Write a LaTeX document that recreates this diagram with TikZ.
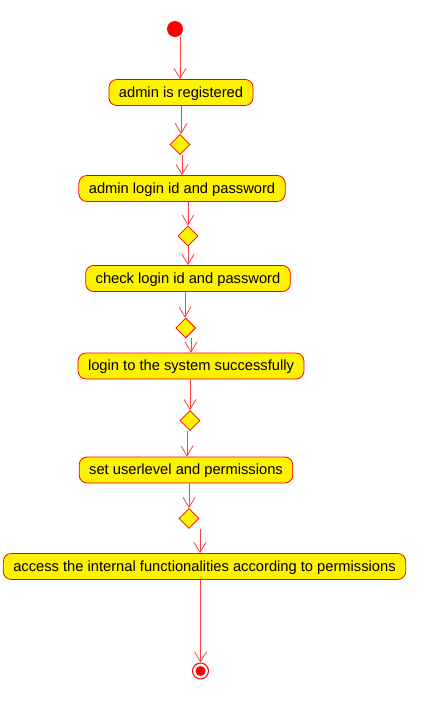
\documentclass[tikz,border=0pt]{standalone}
\usepackage{fontspec}
\setmainfont{Liberation Sans}
\usetikzlibrary{arrows.meta,shapes.geometric}

\tikzset{
    action/.style={draw=red, fill=yellow, line width=0.8pt, rounded corners=8pt,
        inner xsep=10pt, inner ysep=0pt, minimum height=26pt,
        text height=11pt, text depth=1.5pt, font=\fontsize{14.7}{17}\selectfont},
    branch/.style={diamond, draw=red, fill=yellow, line width=0.8pt, inner sep=0pt,
        minimum width=20pt, minimum height=20pt},
    flow/.style={draw=red!75, line width=0.8pt, -{Straight Barb[length=10pt,width=12pt]}},
    initial/.style={circle, fill=red, inner sep=0pt, minimum size=16pt},
    final/.style={circle, draw=red, line width=1pt, inner sep=0pt, minimum size=16pt,
        path picture={\fill[red] (path picture bounding box.center) circle (5pt);}}
}

\begin{document}
\begin{tikzpicture}[x=1pt, y=-1pt]

    % the frame
    \useasboundingbox (0,0) rectangle (432,705);

    % start and end
    \node[initial] (start) at (175,29) {};
    \node[final] (end) at (200.5,671) {};

    % the actions
    \node[action] (b1) at (181,92.5) {admin is registered};
    \node[action] (b2) at (182,188.5) {admin login id and password};
    \node[action] (b3) at (188,278.5) {check login id and password};
    \node[action] (b4) at (191,366) {login to the system successfully};
    \node[action] (b5) at (186,470) {set userlevel and permissions};
    \node[action] (b6) at (204.5,566.5) {access the internal functionalities according to permissions};

    % the branches
    \foreach \name/\x/\y in {d1/180/144.5, d2/188/236, d3/185.7/328, d4/190/420.5, d5/189/518.5} {
        \node[branch] (\name) at (\x,\y) {};
    }

    % the flow
    \draw[flow] (start.south -| 180,0) -- (b1.north -| 180,0);
    \draw[flow] (b1.south) -- (d1.north -| b1.south);
    \draw[flow] (d1.south -| b2.north) -- (b2.north);
    \draw[flow] (b2.south -| d2.north) -- (d2.north);
    \draw[flow] (d2.south) -- (b3.north -| d2.south);
    \draw[flow] (b3.south -| 185,0) -- (d3.north -| 185,0);
    \draw[flow] (d3.south -| b4.north) -- (b4.north);
    \draw[flow] (b4.south -| d4.north) -- (d4.north);
    \draw[flow] (d4.south -| 187,0) -- (b5.north -| 187,0);
    \draw[flow] (b5.south -| d5.north) -- (d5.north);
    \draw[flow] (d5.south -| 200,0) -- (b6.north -| 200,0);
    \draw[flow] (b6.south -| end.north) -- (end.north);

\end{tikzpicture}
\end{document}
